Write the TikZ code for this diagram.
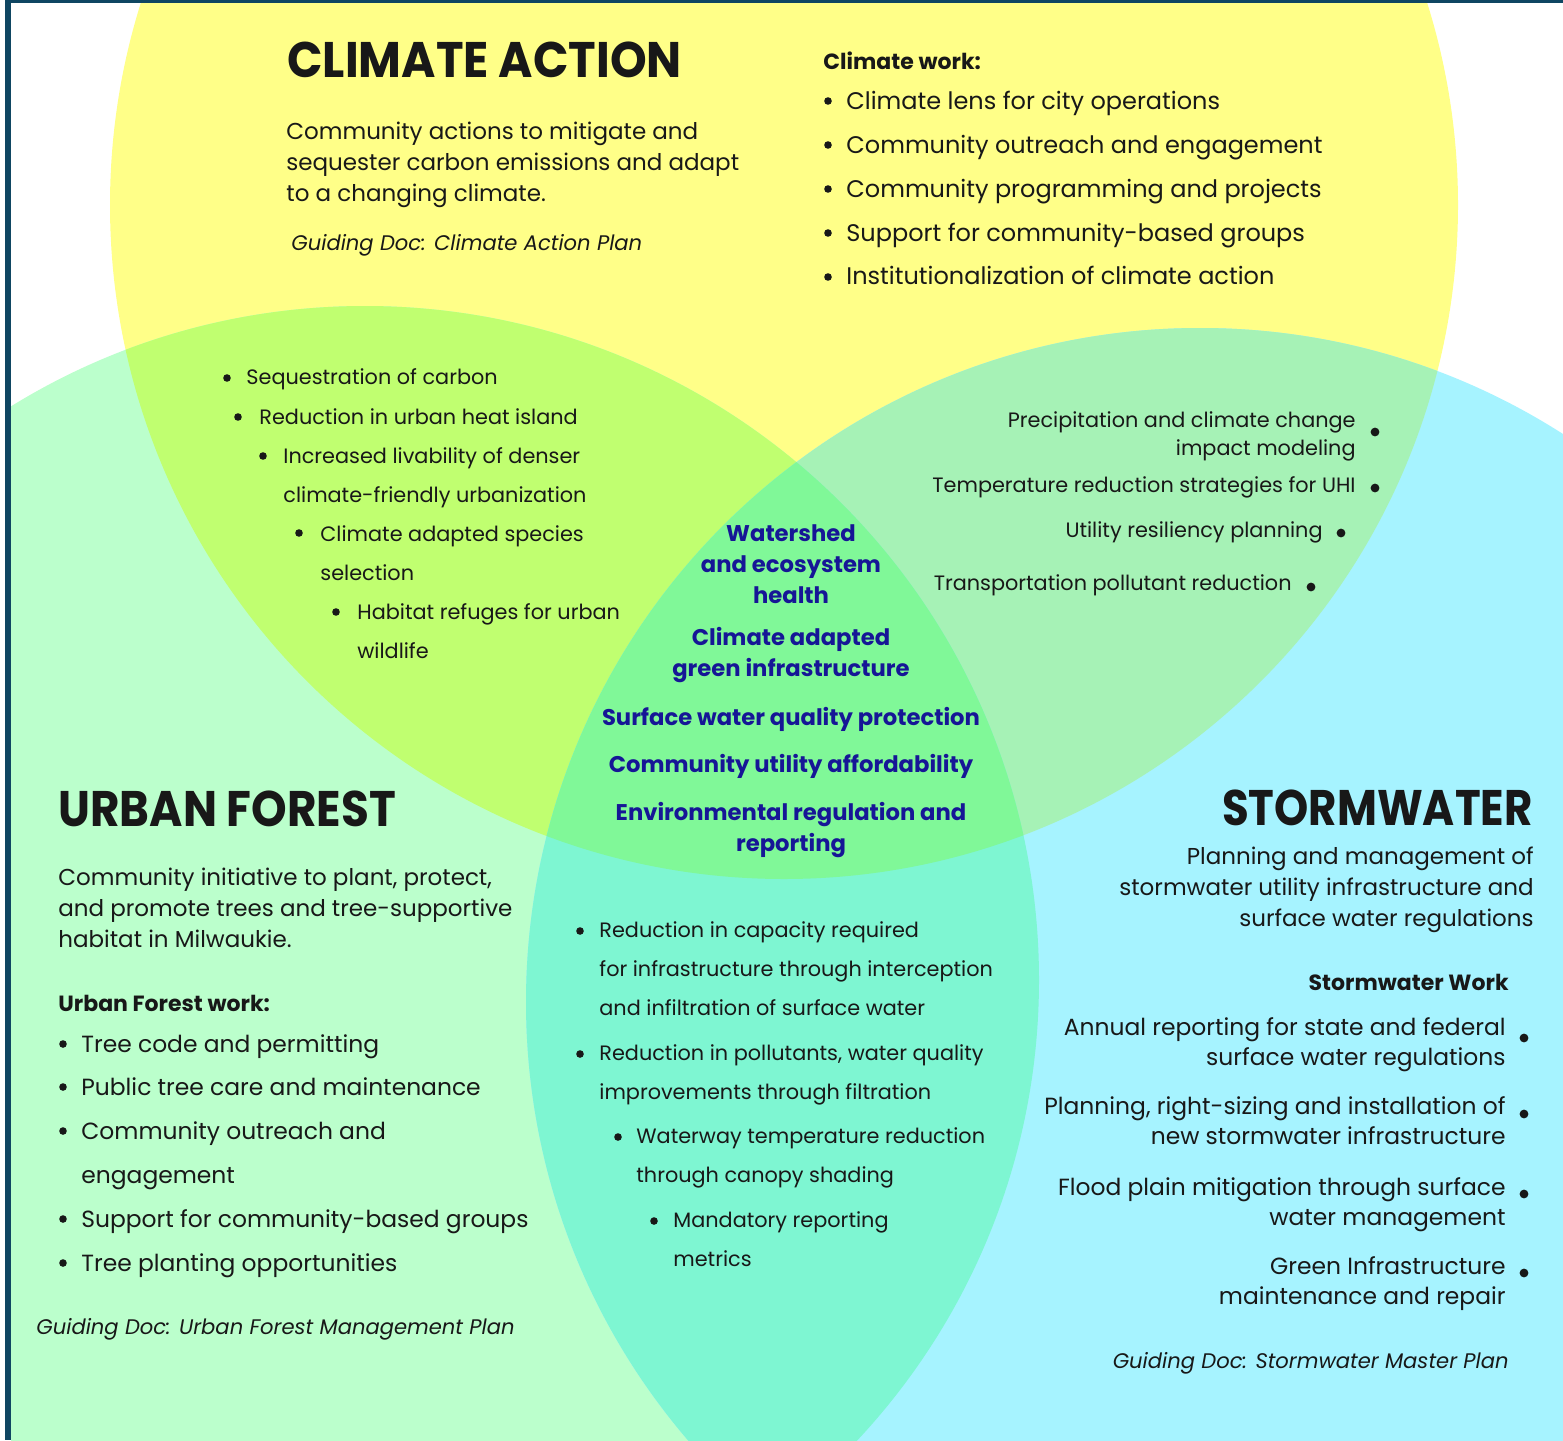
\documentclass[tikz,border=0pt]{standalone}
\usepackage{fontspec}
\setmainfont{Poppins}
\definecolor{ink}{RGB}{24,24,24}
\definecolor{navy}{RGB}{22,22,150}
\definecolor{framec}{RGB}{15,70,98}
\definecolor{cY}{RGB}{255,255,136}
\definecolor{cG}{RGB}{187,255,204}
\definecolor{cC}{RGB}{166,243,255}
\definecolor{cYG}{RGB}{192,255,112}
\definecolor{cYC}{RGB}{166,242,182}
\definecolor{cGC}{RGB}{126,246,210}
\definecolor{cYGC}{RGB}{128,248,152}
\newcommand\Lft[1]{\vtop{\halign{##\hfil\cr#1\crcr}}}
\newcommand\Rgt[1]{\vtop{\halign{\hfil##\cr#1\crcr}}}
\newcommand\Ctr[1]{\vtop{\halign{\hfil##\hfil\cr#1\crcr}}}
\newcommand\fs[2]{\fontsize{#1}{#2}\selectfont}
\tikzset{
  txt/.style={inner sep=0pt, text=ink, anchor=base west},
  rtxt/.style={inner sep=0pt, text=ink, anchor=base east},
  ctr/.style={inner sep=0pt, text=navy, anchor=base, font=\bfseries\fs{11.35}{15.5}},
  bul/.style={circle, fill=ink, inner sep=0pt, minimum size=3.8pt},
  rbul/.style={circle, fill=ink, inner sep=0pt, minimum size=4.4pt},
  title/.style={font=\bfseries\fs{25}{30}},
  desc/.style={font=\fs{11.5}{15.5}},
  head/.style={font=\bfseries\fs{11}{14}},
  item/.style={font=\fs{12}{22}},
  ufitem/.style={font=\fs{11.7}{22}},
  ov/.style={font=\fs{10.4}{19.5}},
  rov/.style={font=\fs{10.4}{14}},
  sw/.style={font=\fs{11.7}{15.2}},
  doc/.style={font=\itshape\fs{10.55}{12}},
}
\begin{document}
\begin{tikzpicture}[x=0.5pt,y=-0.5pt]
\useasboundingbox (0,0) rectangle (1563,1440);
\fill[white] (0,0) rectangle (1563,1440);
\def\R{674}
\def\cYc{(784,205) circle[radius=\R]}
\def\cGc{(365,980) circle[radius=\R]}
\def\cCc{(1200,1002) circle[radius=\R]}
\begin{scope}
  \clip (11,3) rectangle (1563,1440);
  \fill[cY] \cYc;
  \fill[cG] \cGc;
  \fill[cC] \cCc;
  \begin{scope}\clip \cYc; \fill[cYG] \cGc; \end{scope}
  \begin{scope}\clip \cYc; \fill[cYC] \cCc; \end{scope}
  \begin{scope}\clip \cGc; \fill[cGC] \cCc; \end{scope}
  \begin{scope}\clip \cYc; \clip \cGc; \fill[cYGC] \cCc; \end{scope}
\end{scope}
\fill[framec] (5,0) rectangle (11,1440);
\fill[framec] (5,0) rectangle (1563,3);

% ---- Climate action
\node[txt, title] (catitle) at (287,77) {\scalebox{0.933}[1]{CLIMATE ACTION}};
\node[txt, desc] (cadesc) at (286,139) {\Lft{Community actions to mitigate and\cr sequester carbon emissions and adapt\cr to a changing climate.}};
\node[txt, doc] (cadoc) at (291,250) {Guiding Doc: Climate Action Plan};
\node[txt, head] (cwhead) at (823,69) {Climate work:};
\node[bul] (cwb1) at (828,101) {};
\node[txt, item] (cw1) at (846,109) {Climate lens for city operations};
\node[bul] (cwb2) at (828,145) {};
\node[txt, item] (cw2) at (846,153) {Community outreach and engagement};
\node[bul] (cwb3) at (828,189) {};
\node[txt, item] (cw3) at (846,197) {Community programming and projects};
\node[bul] (cwb4) at (828,233) {};
\node[txt, item] (cw4) at (846,241) {Support for community-based groups};
\node[bul] (cwb5) at (828,277) {};
\node[txt, item] (cw5) at (846,284) {Institutionalization of climate action};

% ---- Climate / forest overlap
\node[bul] (yg1b) at (227,378) {};
\node[txt, ov] (yg1) at (246,384) {Sequestration of carbon};
\node[bul] (yg2b) at (238,417) {};
\node[txt, ov] (yg2) at (259,424) {Reduction in urban heat island};
\node[bul] (yg3b) at (263,456) {};
\node[txt, ov] (yg3) at (283,463) {\Lft{Increased livability of denser\cr climate-friendly urbanization}};
\node[bul] (yg4b) at (299,533) {};
\node[txt, ov] (yg4) at (320,541) {\Lft{Climate adapted species\cr selection}};
\node[bul] (yg5b) at (336,612) {};
\node[txt, ov] (yg5) at (357,619) {\Lft{Habitat refuges for urban\cr wildlife}};

% ---- Climate / stormwater overlap
\node[rtxt, rov] (yc1) at (1356,427) {\Rgt{Precipitation and climate change\cr impact modeling}};
\node[rbul] (yc1b) at (1375,432) {};
\node[rtxt, rov] (yc2) at (1356,492) {Temperature reduction strategies for UHI};
\node[rbul] (yc2b) at (1375,488) {};
\node[rtxt, rov] (yc3) at (1323,537) {Utility resiliency planning};
\node[rbul] (yc3b) at (1341,533) {};
\node[rtxt, rov] (yc4) at (1292,590) {Transportation pollutant reduction};
\node[rbul] (yc4b) at (1311,587) {};

% ---- Centre
\node[ctr] (c1) at (791,541) {\Ctr{Watershed\cr and ecosystem\cr health}};
\node[ctr] (c2) at (791,645) {\Ctr{Climate adapted\cr green infrastructure}};
\node[ctr] (c3) at (791,725) {Surface water quality protection};
\node[ctr] (c4) at (791,772) {Community utility affordability};
\node[ctr] (c5) at (791,820) {\Ctr{Environmental regulation and\cr reporting}};

% ---- Urban forest
\node[txt, title] (uftitle) at (58,826) {\scalebox{0.906}[1]{URBAN FOREST}};
\node[txt, desc] (ufdesc) at (58,885) {\Lft{Community initiative to plant, protect,\cr and promote trees and tree-supportive\cr habitat in Milwaukie.}};
\node[txt, head] (ufhead) at (58,1011) {Urban Forest work:};
\node[bul] (ufb1) at (63,1044) {};
\node[txt, ufitem] (uf1) at (81,1052) {Tree code and permitting};
\node[bul] (ufb2) at (63,1087) {};
\node[txt, ufitem] (uf2) at (81,1095) {Public tree care and maintenance};
\node[bul] (ufb3) at (63,1131) {};
\node[txt, ufitem] (uf3) at (81,1139) {\Lft{Community outreach and\cr engagement}};
\node[bul] (ufb4) at (63,1219) {};
\node[txt, ufitem] (uf4) at (81,1227) {Support for community-based groups};
\node[bul] (ufb5) at (63,1263) {};
\node[txt, ufitem] (uf5) at (81,1271) {Tree planting opportunities};
\node[txt, doc] (ufdoc) at (36,1334) {Guiding Doc: Urban Forest Management Plan};

% ---- Forest / stormwater overlap
\node[bul] (gc1b) at (580,931) {};
\node[txt, ov] (gc1) at (599,937) {\Lft{Reduction in capacity required\cr for infrastructure through interception\cr and infiltration of surface water}};
\node[bul] (gc2b) at (580,1054) {};
\node[txt, ov] (gc2) at (599,1060) {\Lft{Reduction in pollutants, water quality\cr improvements through filtration}};
\node[bul] (gc3b) at (618,1137) {};
\node[txt, ov] (gc3) at (636,1143) {\Lft{Waterway temperature reduction\cr through canopy shading}};
\node[bul] (gc4b) at (654,1221) {};
\node[txt, ov] (gc4) at (673,1227) {\Lft{Mandatory reporting\cr metrics}};

% ---- Stormwater
\node[rtxt, title] (swtitle) at (1533,825) {\scalebox{0.87}[1]{STORMWATER}};
\node[rtxt, desc] (swdesc) at (1534,864) {\Rgt{Planning and management of\cr stormwater utility infrastructure and\cr surface water regulations}};
\node[rtxt, head] (swhead) at (1509,990) {Stormwater Work};
\node[rtxt, sw] (sw1) at (1506,1035) {\Rgt{Annual reporting for state and federal\cr surface water regulations}};
\node[rbul] (sw1b) at (1524,1038) {};
\node[rtxt, sw] (sw2) at (1506,1114) {\Rgt{Planning, right-sizing and installation of\cr new stormwater infrastructure}};
\node[rbul] (sw2b) at (1524,1114) {};
\node[rtxt, sw] (sw3) at (1506,1195) {\Rgt{Flood plain mitigation through surface\cr water management}};
\node[rbul] (sw3b) at (1524,1194) {};
\node[rtxt, sw] (sw4) at (1506,1274) {\Rgt{Green Infrastructure\cr maintenance and repair}};
\node[rbul] (sw4b) at (1524,1273) {};
\node[rtxt, doc] (swdoc) at (1509,1368) {Guiding Doc: Stormwater Master Plan};
\end{tikzpicture}
\end{document}
